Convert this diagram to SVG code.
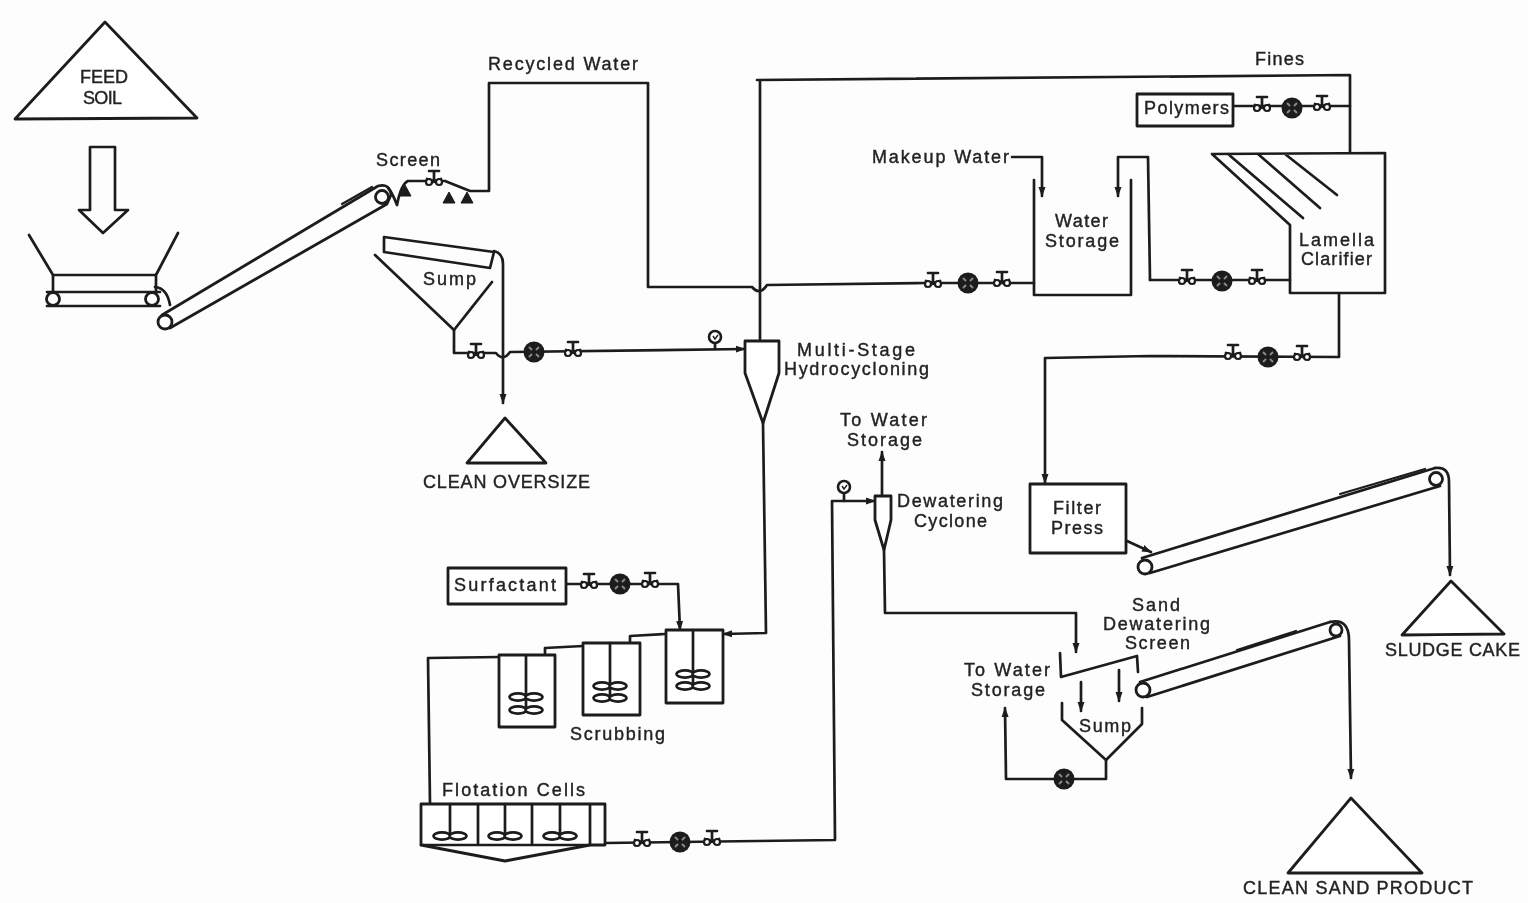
<svg xmlns="http://www.w3.org/2000/svg" width="1528" height="903" viewBox="0 0 1528 903">
<style>
.l{fill:none;stroke:#1c1c1c;stroke-width:2.7;stroke-linejoin:round;stroke-linecap:round}
.t{stroke-width:2.2}
.n{fill:#fff;stroke:#1c1c1c;stroke-width:2.8;stroke-linejoin:round}
.d{fill:#1c1c1c;stroke:#1c1c1c;stroke-width:1}
text{font-family:"Liberation Sans",Arial,sans-serif;font-size:18px;fill:#222;stroke:#222;stroke-width:.4}
</style>
<defs>
<filter id="scan" x="-2%" y="-2%" width="104%" height="104%"><feGaussianBlur stdDeviation="0.7"/></filter>
<marker id="a" markerWidth="14" markerHeight="12" refX="9" refY="5" orient="auto" markerUnits="userSpaceOnUse"><path d="M0 1.5 L10 5 L0 8.5 Z" fill="#1c1c1c"/></marker>
<g id="valve"><path class="l" d="M-7 3 L7 -2 M-7 -2 L7 3 M0 0 V-10 M-5 -10 H5"/><circle cx="-5" cy="1" r="3" fill="#fff" stroke="#1c1c1c" stroke-width="2.2"/><circle cx="5" cy="1" r="3" fill="#fff" stroke="#1c1c1c" stroke-width="2.2"/></g>
<g id="pump"><circle r="10.5" fill="#1c1c1c"/><path d="M-5 -5 L-2 -2 M5 -5 L2 -2 M-5 5 L-2 2 M5 5 L2 2" stroke="#888" stroke-width="2"/></g>
<g id="blade"><ellipse cx="-8" rx="8.5" ry="3.6" fill="#fff" stroke="#1c1c1c" stroke-width="2.6"/><ellipse cx="8" rx="8.5" ry="3.6" fill="#fff" stroke="#1c1c1c" stroke-width="2.6"/></g>
<g id="gauge"><circle r="6" fill="#fff" stroke="#1c1c1c" stroke-width="2.6"/><path d="M-2 -1 L0 2 L3 -2" stroke="#1c1c1c" fill="none" stroke-width="1.4"/></g>
<path id="leg" class="d" d="M-6 0 L0 -11 L6 0 Z"/>
</defs>
<rect width="1528" height="903" fill="#fdfdfd"/>
<g filter="url(#scan)">
<g id="connectors">
<path class="l" d="M397 205 Q392 192 388 188 M397 205 Q401 184 408 181 H445 L470 191 H489 V83 H648 V287 H752 Q760 296 767 285 L925 283"/>
<path class="l" d="M760 340 V80 H757 L1350 75 V153"/>
<path class="l" d="M1233 106 H1350"/>
<path class="l" d="M1012 157 H1042 V196" marker-end="url(#a)"/>
<path class="l" d="M1150 280 L1148 157 H1118 V196" marker-end="url(#a)"/>
<path class="l" d="M1150 280 H1290"/>
<path class="l" d="M925 283 H1034"/>
<path class="l" d="M1339 294 V357 L1150 356 L1045 358 V483" marker-end="url(#a)"/>
<path class="l" d="M1127 541 L1151 552" marker-end="url(#a)"/>
<path class="l" d="M454 330 V353 H496 Q503 362 510 352 L745 349" marker-end="url(#a)"/>
<path class="l" d="M494 251 Q503 253 503 264 V403" marker-end="url(#a)"/>
<path class="l" d="M715 343 V349"/>
<path class="l" d="M763 423 L766 633 L723 634" marker-end="url(#a)"/>
<path class="l" d="M566 584 H678 L680 630" marker-end="url(#a)"/>
<path class="l" d="M665 634 L630 636 V643 M583 646 L545 648 V655 M499 657 L428 658 L430 804"/>
<path class="l" d="M605 843 L835 840 L832 501 H875" marker-end="url(#a)"/>
<path class="l" d="M844 493 V501"/>
<path class="l" d="M882 496 V452" marker-end="url(#a)"/>
<path class="l" d="M884 550 L885 613 H1076 V652" marker-end="url(#a)"/>
<path class="l" d="M1081 682 V711" marker-end="url(#a)"/>
<path class="l" d="M1119 670 V701" marker-end="url(#a)"/>
<path class="l" d="M1106 760 V779 H1006 L1005 708" marker-end="url(#a)"/>
<path class="l" d="M1330 622 Q1349 618 1349 640 L1351 778" marker-end="url(#a)"/>
<path class="l" d="M1435 468 Q1449 466 1449 482 L1450 575" marker-end="url(#a)"/>
<path class="l" d="M155 287 Q167 288 170 305"/>
<g>
<use href="#valve" x="434" y="181"/><use href="#valve" x="476" y="354"/><use href="#pump" x="534" y="352"/><use href="#valve" x="573" y="352"/>
<use href="#valve" x="933" y="283"/><use href="#pump" x="968" y="283"/><use href="#valve" x="1002" y="282"/>
<use href="#valve" x="1187" y="280"/><use href="#pump" x="1222" y="281"/><use href="#valve" x="1257" y="280"/>
<use href="#valve" x="1262" y="107"/><use href="#pump" x="1292" y="108"/><use href="#valve" x="1322" y="106"/>
<use href="#valve" x="1233" y="355"/><use href="#pump" x="1268" y="357"/><use href="#valve" x="1302" y="356"/>
<use href="#valve" x="589" y="584"/><use href="#pump" x="620" y="584"/><use href="#valve" x="650" y="583"/>
<use href="#valve" x="642" y="842"/><use href="#pump" x="680" y="842"/><use href="#valve" x="712" y="841"/>
<use href="#pump" x="1064" y="779"/>
<use href="#gauge" x="715" y="337"/><use href="#gauge" x="844" y="487"/>
</g>
</g>
<g id="feed-soil"><path class="n" d="M105 22 L197 118 L15 119 Z"/><text x="80" y="83" textLength="48">FEED</text><text x="83" y="104" textLength="39">SOIL</text></g>
<g id="feed-arrow"><path class="l" d="M90 147 H115 V210 H128 L103 233 L79 210 H90 Z"/></g>
<g id="feed-hopper"><path class="l" d="M29 235 L53 275 V292 M178 233 L156 275 V292 M53 275 H155 M47 292 H160 M47 306 H160"/><circle class="n" cx="53" cy="299" r="6.5"/><circle class="n" cx="152" cy="299" r="6.5"/></g>
<g id="feed-conveyor"><path class="l" d="M162 315 L378 186 Q390 183 391 195 L387 204 L170 328"/><path class="l t" d="M342 204 L372 187"/><circle class="n" cx="165" cy="322" r="7"/><circle class="n" cx="382" cy="197" r="6.5"/></g>
<g id="screen"><use href="#leg" x="405" y="196"/><use href="#leg" x="449" y="203"/><use href="#leg" x="467" y="203"/><text x="376" y="166" textLength="64">Screen</text></g>
<g id="recycled-water"><text x="488" y="70" textLength="150">Recycled Water</text></g>
<g id="sump-1"><path class="l" d="M384 237 L494 252 L490 268 L384 252 Z M375 255 L454 330 L492 282"/><text x="423" y="285" textLength="53">Sump</text></g>
<g id="clean-oversize"><path class="n" d="M505 418 L546 463 L467 463 Z"/><text x="423" y="488" textLength="167">CLEAN OVERSIZE</text></g>
<g id="hydrocyclone"><path class="n" d="M745 341 H779 V373 L763 423 L745 373 Z"/><text x="797" y="356" textLength="118">Multi-Stage</text><text x="784" y="375" textLength="145">Hydrocycloning</text></g>
<g id="surfactant"><rect class="n" x="448" y="568" width="118" height="36"/><text x="454" y="591" textLength="102">Surfactant</text></g>
<g id="scrub-1"><rect class="n" x="499" y="655" width="56" height="72"/><path class="l" d="M526 655 V710"/><use href="#blade" x="526" y="697"/><use href="#blade" x="526" y="710"/></g>
<g id="scrub-2"><rect class="n" x="583" y="643" width="57" height="72"/><path class="l" d="M610 643 V698"/><use href="#blade" x="610" y="686"/><use href="#blade" x="610" y="698"/></g>
<g id="scrub-3"><rect class="n" x="666" y="630" width="57" height="73"/><path class="l" d="M693 630 V686"/><use href="#blade" x="693" y="674"/><use href="#blade" x="693" y="686"/></g>
<g id="scrubbing-label"><text x="570" y="740" textLength="95">Scrubbing</text></g>
<g id="flotation"><path class="n" d="M421 804 H605 V845 L590 845 L505 861 L421 845 Z"/><path class="l" d="M421 845 H590 M478 804 V845 M532 804 V845 M590 804 V845 M450 804 V835 M505 804 V835 M560 804 V835"/><use href="#blade" x="450" y="836"/><use href="#blade" x="505" y="836"/><use href="#blade" x="560" y="836"/><text x="442" y="796" textLength="143">Flotation Cells</text></g>
<g id="to-water-1"><text x="840" y="426" textLength="87">To Water</text><text x="847" y="446" textLength="75">Storage</text></g>
<g id="dewatering-cyclone"><path class="n" d="M875 496 H891 V520 L884 550 L875 520 Z"/><text x="897" y="507" textLength="106">Dewatering</text><text x="914" y="527" textLength="73">Cyclone</text></g>
<g id="water-storage"><path class="l" d="M1034 180 V295 H1131 V180"/><text x="1055" y="227" textLength="53">Water</text><text x="1045" y="247" textLength="74">Storage</text></g>
<g id="makeup"><text x="872" y="163" textLength="137">Makeup Water</text></g>
<g id="polymers"><rect class="n" x="1137" y="94" width="96" height="32"/><text x="1144" y="114" textLength="85">Polymers</text></g>
<g id="fines"><text x="1255" y="65" textLength="49">Fines</text></g>
<g id="clarifier"><path class="l" d="M1212 154 L1385 153 V293 H1290 V225 Z M1228 154 L1303 218 M1258 154 L1320 208 M1285 154 L1337 195"/><text x="1299" y="246" textLength="75">Lamella</text><text x="1301" y="265" textLength="71">Clarifier</text></g>
<g id="filter-press"><rect class="n" x="1030" y="484" width="96" height="69"/><text x="1053" y="514" textLength="48">Filter</text><text x="1051" y="534" textLength="52">Press</text></g>
<g id="sludge-conveyor"><path class="l" d="M1142 558 L1435 468 M1150 573 L1440 486"/><path class="l t" d="M1340 494 L1425 469"/><circle class="n" cx="1145" cy="567" r="7"/><circle class="n" cx="1436" cy="479" r="6.5"/></g>
<g id="sludge-cake"><path class="n" d="M1451 581 L1504 634 L1402 635 Z"/><text x="1385" y="656" textLength="135">SLUDGE CAKE</text></g>
<g id="sand-screen"><path class="l" d="M1060 653 L1061 677 L1137 656 L1138 672"/><text x="1132" y="611" textLength="48">Sand</text><text x="1103" y="630" textLength="107">Dewatering</text><text x="1125" y="649" textLength="65">Screen</text></g>
<g id="to-water-2"><text x="964" y="676" textLength="86">To Water</text><text x="971" y="696" textLength="74">Storage</text></g>
<g id="sump-2"><path class="l" d="M1062 703 V720 L1106 760 L1142 724 V708"/><text x="1079" y="732" textLength="52">Sump</text></g>
<g id="sand-conveyor"><path class="l" d="M1140 682 L1330 622 M1147 697 L1340 636"/><path class="l t" d="M1237 650 L1296 631"/><circle class="n" cx="1143" cy="690" r="7"/><circle class="n" cx="1336" cy="630" r="6"/></g>
<g id="clean-sand"><path class="n" d="M1351 798 L1422 873 H1288 Z"/><text x="1243" y="894" textLength="230">CLEAN SAND PRODUCT</text></g>
</g>
</svg>
